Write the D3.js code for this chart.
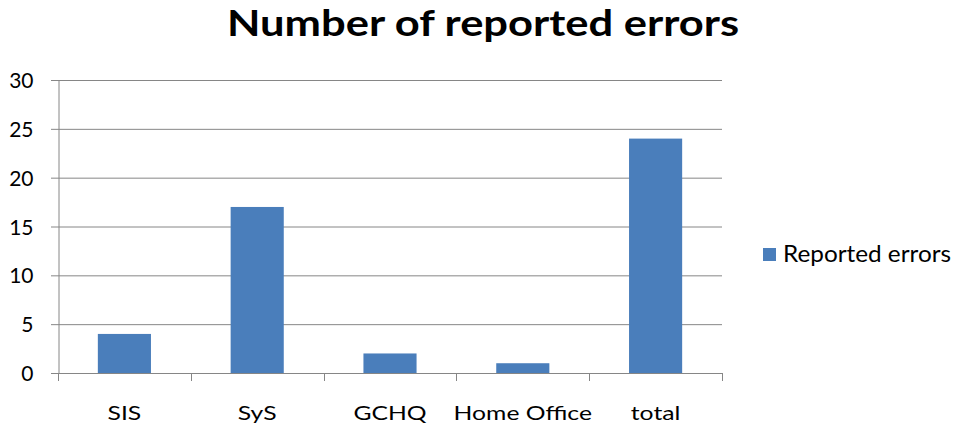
<!DOCTYPE html>
<html><head><meta charset="utf-8">
<script src="https://cdn.jsdelivr.net/npm/d3@7"></script>
<style>body{margin:0;background:#fff}svg{display:block}text{font-family:Lato,"Open Sans",sans-serif;fill:#000}</style>
</head><body><svg id="c" width="954" height="427"></svg>
<script>
const categories = ["SIS", "SyS", "GCHQ", "Home Office", "total"];
const values = [4, 17, 2, 1, 24];
const yTicks = [0, 5, 10, 15, 20, 25, 30];
const seriesName = "Reported errors";
const title = "Number of reported errors";

const svg = d3.select("#c");
const m = {left: 58, right: 722, top: 80, bottom: 373};
const x = d3.scaleBand().domain(categories).range([m.left, m.right]).paddingInner(0.6).paddingOuter(0.3);
const y = d3.scaleLinear().domain([0, 30]).range([m.bottom, m.top]);
const grid = "#868686";

// gridlines
svg.append("g").selectAll("line").data(yTicks).join("line")
  .attr("x1", m.left - 7).attr("x2", m.right)
  .attr("y1", d => y(d) + 0.5).attr("y2", d => y(d) + 0.5)
  .attr("stroke", grid).attr("stroke-width", 1);

// y axis
const ya = svg.append("g").attr("transform", `translate(${m.left + 0.5},0)`)
  .call(d3.axisLeft(y).tickValues(yTicks).tickSize(0).tickPadding(25));
ya.select(".domain").attr("stroke", grid);
ya.selectAll("text").attr("font-size", 21).attr("font-family", "Lato,sans-serif").attr("fill", "#000")
  .attr("dy", "0.36em");

// bars
svg.append("g").selectAll("rect").data(values).join("rect")
  .attr("x", (d, i) => x(categories[i]))
  .attr("width", x.bandwidth())
  .attr("y", d => y(d))
  .attr("height", d => y(0) - y(d))
  .attr("fill", "#4a7ebb");

// x axis with category boundary ticks
const xb = d3.scaleLinear().domain([0, categories.length]).range([m.left, m.right]);
svg.append("line").attr("x1", m.left - 7).attr("x2", m.right).attr("y1", m.bottom + 0.5).attr("y2", m.bottom + 0.5).attr("stroke", grid);
svg.append("g").selectAll("line").data(d3.range(categories.length + 1)).join("line")
  .attr("x1", d => Math.round(xb(d)) + 0.5).attr("x2", d => Math.round(xb(d)) + 0.5)
  .attr("y1", m.bottom).attr("y2", m.bottom + 8).attr("stroke", grid);
svg.append("g").selectAll("text").data(categories).join("text")
  .attr("x", d => x(d) + x.bandwidth() / 2).attr("y", 420)
  .attr("text-anchor", "middle").attr("font-size", 19).text(d => d)
  .each(function() {
    const w = this.getComputedTextLength();
    d3.select(this).attr("textLength", w * 1.3).attr("lengthAdjust", "spacingAndGlyphs");
  });

// title
svg.append("text").attr("x", 483).attr("y", 36).attr("text-anchor", "middle")
  .attr("font-size", 36).attr("font-weight", "bold")
  .attr("textLength", 512).attr("lengthAdjust", "spacingAndGlyphs").text(title);

// legend
svg.append("rect").attr("x", 763).attr("y", 248).attr("width", 13).attr("height", 13).attr("fill", "#4a7ebb");
svg.append("text").attr("x", 783).attr("y", 262).attr("font-size", 23)
  .attr("textLength", 168).attr("lengthAdjust", "spacingAndGlyphs").text(seriesName);
</script></body></html>
